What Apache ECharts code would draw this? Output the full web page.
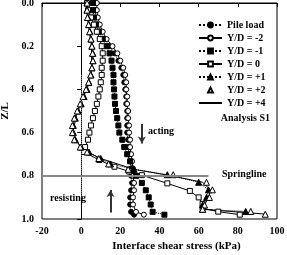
<!DOCTYPE html>
<html><head><meta charset="utf-8">
<script src="https://cdn.jsdelivr.net/npm/echarts@6/dist/echarts.min.js"></script>
<style>html,body{margin:0;padding:0;background:#fff}#c{width:287px;height:255px}</style>
</head><body><div id="c"></div>
<script>
// ---- data (Z/L depth and interface shear stress in kPa) ----
var xTicks = [-20, 0, 20, 40, 60, 80, 100];
var yTicks = [0.0, 0.2, 0.4, 0.6, 0.8, 1.0];

var depthGrid = [0,.033,.067,.1,.133,.167,.2,.233,.267,.3,.333,.367,.4,.433,.467,.5,.533,.567,.6,.633,.667,.7,.733,.767,.8,.833,.867,.9,.933,.967,.98];
var pileLoad  = [7,7,7.5,8.5,10,12,14.5,17,19,20.5,21.5,22,22.5,23,23,23.5,23.5,23.5,23.5,24,24,24.5,25,25.5,25.5,26,25.5,25,25,25.5,27];
var ydm2      = [8,8,8.5,9.5,11,13,16,18.5,20,21.5,22.5,23,23,23.5,23.5,24,24,24.5,24.5,25,25,25.5,26,26.5,26.5,27,27,26.5,26.5,28,32];
var ydm1      = [6,6,6.5,7.5,9,11,13,14.5,15.5,16,16.5,16.5,16.8,17,17.3,17.8,18.4,19,19.5,21,22,23.5,25,26,28,31,33,34.5,35.5,36.5,42.5];

var depth0 = [0,.033,.067,.1,.133,.167,.2,.233,.267,.3,.333,.367,.4,.433,.467,.5,.533,.567,.6,.633,.667,.69,.727,.758,.78,.797,.835,.87,.9,.93,.95,.966,.98];
var yd0    = [3,3.5,5,6.5,8,9.5,10.5,11,11,10.5,10.5,10,9.5,8.8,8,7,6,5,4.2,3.5,2,1.5,9.2,17,24.5,31,44,55.5,60,62,62,70,81];

var depthP1 = [0,.033,.067,.1,.133,.167,.2,.233,.267,.3,.333,.367,.4,.433,.467,.5,.533,.567,.6,.633,.667,.69,.72,.745,.77,.795,.83,.865,.9,.935,.955,.965];
var ydp1    = [3,3,3.5,4,4.5,5,5.5,6,6,5.5,5,4,3,1.5,0,-1.5,-3,-4,-4,-3,0,4,10,15,27,44,60,65,64,62,62,84];

var depthP2 = [0,.033,.067,.1,.133,.167,.2,.233,.267,.3,.333,.367,.4,.433,.467,.5,.533,.567,.6,.633,.667,.69,.72,.745,.77,.795,.83,.865,.9,.935,.955,.965,.978];
var ydp2    = [3,3,3.2,3.8,4.3,5,5.5,5.8,6,5.5,4.8,3.8,2.5,1,-0.5,-2,-3.5,-4.5,-4.5,-3.5,-0.5,3,9,14,24,47,64,67,65.5,63,62,86.6,94];

var depthP4 = [0,.1,.2,.3,.4,.5,.6,.667,.69,.72,.77,.8,.83,.865,.9,.935,.955,.978];
var ydp4    = [2.5,3.6,5.3,5.4,2.4,-2,-4.2,-0.5,3,10,27,46,62,66,65,63,62,95];

var seriesNames = ['Pile load', 'Y/D = -2', 'Y/D = -1', 'Y/D = 0', 'Y/D = +1', 'Y/D = +2', 'Y/D = +4'];

// annotation values (data coordinates)
var springline = 0.8, springlineEnd = 65;
var actingArrow = {x: 31, from: 0.56, to: 0.65};
var resistingArrow = {x: 15, from: 0.97, to: 0.866};
var zeroLine = {x: 0, from: 0.333, to: 0.9};

function pairs(xs, zs){ return xs.map(function(v,i){ return [v, zs[i]]; }); }

var FONT = 'Liberation Serif';
var chart = echarts.init(document.getElementById('c'), null, {renderer:'canvas'});

function mk(name, xs, zs, symbol, filled, lineType, lineWidth){
  return {
    name: name, type: 'line', data: pairs(xs, zs),
    symbol: symbol, symbolSize: symbol === 'triangle' ? 6 : 5,
    showSymbol: symbol !== 'none',
    itemStyle: {color: filled ? '#000' : '#fff', borderColor: '#000', borderWidth: 1},
    lineStyle: {color: '#000', width: lineWidth, type: lineType, opacity: lineWidth > 0 ? 1 : 0},
    color: '#000',
    animation: false, z: 3
  };
}

var series = [
  mk(seriesNames[0], pileLoad, depthGrid, 'circle', true, 'dotted', 1),
  mk(seriesNames[1], ydm2, depthGrid, 'circle', false, 'solid', 1),
  mk(seriesNames[2], ydm1, depthGrid, 'rect', true, 'dotted', 1),
  mk(seriesNames[3], yd0, depth0, 'rect', false, 'solid', 1),
  mk(seriesNames[4], ydp1, depthP1, 'triangle', true, 'dotted', 1),
  mk(seriesNames[5], ydp2, depthP2, 'triangle', false, 'solid', 0),
  mk(seriesNames[6], ydp4, depthP4, 'none', false, 'solid', 1)
];

// annotations series
series.push({
  type: 'line', data: [], silent: true, animation: false,
  markLine: {
    silent: true, animation: false, label: {show: false},
    data: [
      [{coord: [xTicks[0], springline], symbol: 'none', lineStyle: {color: '#888', width: 2, type: 'solid'}},
       {coord: [springlineEnd, springline], symbol: 'none'}],
      [{coord: [zeroLine.x, zeroLine.from], symbol: 'none', lineStyle: {color: '#777', width: 1, type: 'dotted'}},
       {coord: [zeroLine.x, zeroLine.to], symbol: 'none'}],
      [{coord: [actingArrow.x, actingArrow.from], symbol: 'none', lineStyle: {color: '#333', width: 2, type: 'solid'}},
       {coord: [actingArrow.x, actingArrow.to], symbol: 'arrow', symbolSize: [6, 7]}],
      [{coord: [resistingArrow.x, resistingArrow.from], symbol: 'none', lineStyle: {color: '#333', width: 2, type: 'solid'}},
       {coord: [resistingArrow.x, resistingArrow.to], symbol: 'arrow', symbolSize: [6, 7]}]
    ]
  }
});

function gtext(t, x, y, align){
  return {type: 'text', x: x, y: y, z: 10,
    style: {text: t, align: align || 'left', verticalAlign: 'middle',
      fontFamily: FONT, fontWeight: 'bold', fontSize: 10, fill: '#000'}};
}

var legendData = seriesNames.map(function(n, i){
  return i === 6 ? {name: n, itemStyle: {opacity: 0}} : {name: n};
});

chart.setOption({
  animation: false,
  backgroundColor: '#fff',
  grid: {left: 42, top: 3, right: 10, bottom: 36, show: true, borderColor: '#000', borderWidth: 1,
         outerBoundsMode: 'none', containLabel: false},
  xAxis: {
    type: 'value', min: xTicks[0], max: xTicks[xTicks.length-1], interval: 20,
    name: 'Interface shear stress (kPa)', nameLocation: 'middle', nameGap: 20,
    nameTextStyle: {fontFamily: FONT, fontWeight: 'bold', fontSize: 11, color: '#000', padding: [0, 0, 0, 34]},
    axisLine: {lineStyle: {color: '#000'}},
    axisTick: {show: true, length: 4, lineStyle: {color: '#000'}},
    axisLabel: {fontFamily: FONT, fontWeight: 'bold', fontSize: 10, color: '#000', margin: 7},
    splitLine: {show: false}
  },
  yAxis: {
    type: 'value', inverse: true, min: yTicks[0], max: yTicks[yTicks.length-1], interval: 0.2,
    name: 'Z/L', nameLocation: 'middle', nameGap: 27,
    nameTextStyle: {fontFamily: FONT, fontWeight: 'bold', fontSize: 11, color: '#000'},
    axisLine: {lineStyle: {color: '#000'}},
    axisTick: {show: true, length: 4, lineStyle: {color: '#000'}},
    axisLabel: {fontFamily: FONT, fontWeight: 'bold', fontSize: 10, color: '#000', margin: 8,
      formatter: function(v){ return v.toFixed(1); }},
    splitLine: {show: false}
  },
  legend: {
    orient: 'vertical', left: 193, top: 15, itemWidth: 23, itemHeight: 6, itemGap: 3,
    data: legendData,
    textStyle: {fontFamily: FONT, fontWeight: 'bold', fontSize: 10, color: '#000'},
    selectedMode: false
  },
  graphic: [
    gtext('Analysis S1', 270, 118, 'right'),
    gtext('acting', 148, 131),
    gtext('Springline', 222, 174),
    gtext('resisting', 50, 198)
  ],
  series: series
});
</script></body></html>
